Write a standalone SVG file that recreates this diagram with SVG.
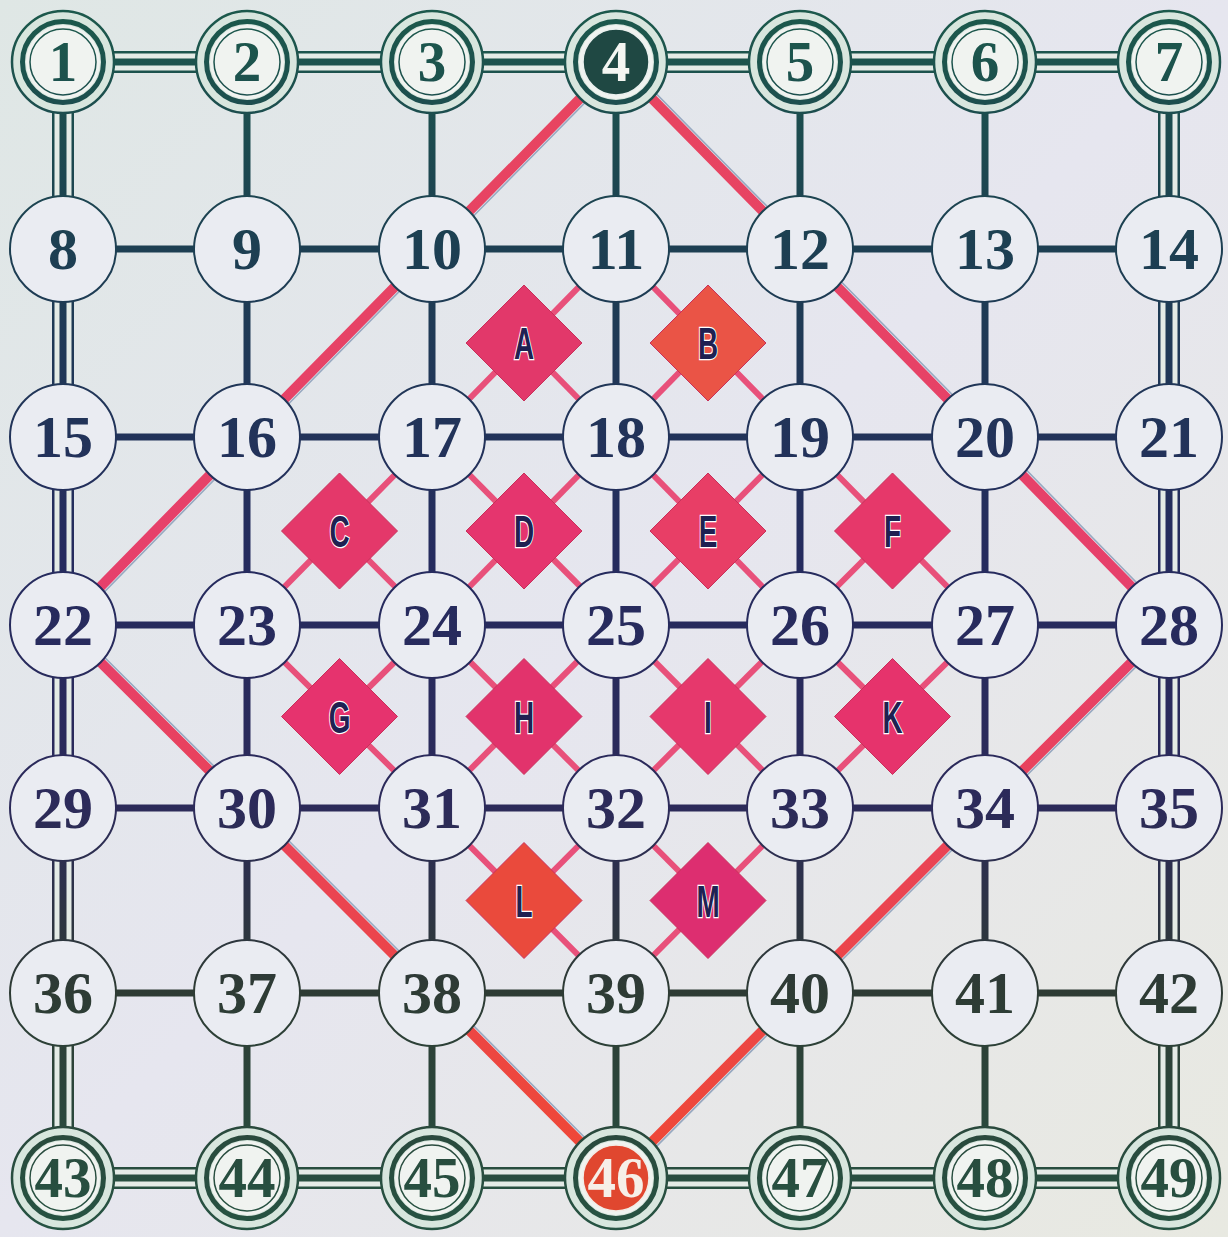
<svg xmlns="http://www.w3.org/2000/svg" width="1228" height="1237" viewBox="0 0 1228 1237">
<defs>
<linearGradient id="bgg" x1="0" y1="0" x2="1228" y2="1237" gradientUnits="userSpaceOnUse">
<stop offset="0" stop-color="#dfe7e5"/><stop offset="0.5" stop-color="#e6e6ef"/><stop offset="1" stop-color="#e8e9e1"/>
</linearGradient>
<linearGradient id="ink" x1="0" y1="0" x2="0" y2="1237" gradientUnits="userSpaceOnUse">
<stop offset="0" stop-color="#1c5a4b"/><stop offset="0.2" stop-color="#1d3f52"/><stop offset="0.45" stop-color="#252b5e"/><stop offset="0.65" stop-color="#2c2a5a"/><stop offset="0.8" stop-color="#2e3b34"/><stop offset="1" stop-color="#265443"/>
</linearGradient>
<linearGradient id="red" x1="0" y1="0" x2="0" y2="1237" gradientUnits="userSpaceOnUse">
<stop offset="0" stop-color="#e8455e"/><stop offset="0.5" stop-color="#e6406c"/><stop offset="1" stop-color="#f0492f"/>
</linearGradient>
<style>
.grid{stroke:url(#ink);stroke-width:7;fill:none}
.b1{stroke:url(#ink);stroke-width:22;fill:none}
.b2{stroke:#e4ebe6;stroke-width:17;fill:none}
.b3{stroke:url(#ink);stroke-width:7;fill:none}
.big{stroke:url(#red);stroke-width:10;fill:none;stroke-linejoin:round}
.bigsh{stroke:#97a8c0;stroke-width:1.6;fill:none}
.sm{stroke:#e8507a;stroke-width:6;fill:none}
.nd circle{fill:#eaecf2;stroke:url(#ink);stroke-width:2}
.num{font-family:"Liberation Serif","DejaVu Serif",serif;font-weight:bold;font-size:60px;text-anchor:middle;fill:url(#ink)}
.rnum{font-size:57px}
.ro{fill:#d8e6de;stroke:url(#ink);stroke-width:2.5}
.rg{fill:#f0f3f0}
.rm{fill:none;stroke:url(#ink);stroke-width:5}
.ri{fill:none;stroke:url(#ink);stroke-width:1.5}
.dia{stroke:#c8305a;stroke-width:1}
.let{font-family:"Liberation Sans","DejaVu Sans",sans-serif;font-weight:bold;font-size:45px;text-anchor:middle;fill:#1f2152;stroke:#ffffff;stroke-width:2.5;paint-order:stroke}
</style>
</defs>
<rect x="0" y="0" width="1228" height="1237" fill="url(#bgg)"/>

<g id="connectors">
<line class="grid" x1="63" y1="249" x2="1169" y2="249"/>
<line class="grid" x1="63" y1="437" x2="1169" y2="437"/>
<line class="grid" x1="63" y1="625" x2="1169" y2="625"/>
<line class="grid" x1="63" y1="808" x2="1169" y2="808"/>
<line class="grid" x1="63" y1="993" x2="1169" y2="993"/>
<line class="grid" x1="247" y1="62" x2="247" y2="1178"/>
<line class="grid" x1="432" y1="62" x2="432" y2="1178"/>
<line class="grid" x1="616" y1="62" x2="616" y2="1178"/>
<line class="grid" x1="800" y1="62" x2="800" y2="1178"/>
<line class="grid" x1="985" y1="62" x2="985" y2="1178"/>
<rect class="b1" x="63" y="62" width="1106" height="1116"/>
<rect class="b2" x="63" y="62" width="1106" height="1116"/>
<rect class="b3" x="63" y="62" width="1106" height="1116"/>
<polygon class="bigsh" transform="translate(9,0)" points="616,62 432,249 247,437 63,625 247,808 432,993 616,1178 800,993 985,808 1169,625 985,437 800,249"/>
<polygon class="big" points="616,62 432,249 247,437 63,625 247,808 432,993 616,1178 800,993 985,808 1169,625 985,437 800,249"/>
<polyline class="sm" points="616,249 432,437 247,625 432,808 616,993 800,808 985,625 800,437 616,249"/>
<line class="sm" x1="432" y1="437" x2="800" y2="808"/>
<line class="sm" x1="800" y1="437" x2="432" y2="808"/>
<line class="sm" x1="616" y1="437" x2="432" y2="625"/>
<line class="sm" x1="524" y1="343" x2="800" y2="625"/>
<line class="sm" x1="708" y1="343" x2="616" y2="437"/>
<line class="sm" x1="339.5" y1="531" x2="616" y2="808"/>
<line class="sm" x1="892.5" y1="531" x2="616" y2="808"/>
<line class="sm" x1="339.5" y1="716.5" x2="432" y2="625"/>
<line class="sm" x1="892.5" y1="716.5" x2="800" y2="625"/>
<line class="sm" x1="524" y1="900.5" x2="616" y2="808"/>
<line class="sm" x1="708" y1="900.5" x2="616" y2="808"/>
</g>

<g id="diamonds">
<g id="dA"><polygon class="dia" fill="#e2386a" points="524,285 582,343 524,401 466,343"/><text class="let" transform="translate(524,359) scale(0.62,1)">A</text></g>
<g id="dB"><polygon class="dia" fill="#ea5446" points="708,285 766,343 708,401 650,343"/><text class="let" transform="translate(708,359) scale(0.62,1)">B</text></g>
<g id="dC"><polygon class="dia" fill="#e4386a" points="339.5,473 397.5,531 339.5,589 281.5,531"/><text class="let" transform="translate(339.5,547) scale(0.62,1)">C</text></g>
<g id="dD"><polygon class="dia" fill="#e5356e" points="524,473 582,531 524,589 466,531"/><text class="let" transform="translate(524,547) scale(0.62,1)">D</text></g>
<g id="dE"><polygon class="dia" fill="#e83e66" points="708,473 766,531 708,589 650,531"/><text class="let" transform="translate(708,547) scale(0.62,1)">E</text></g>
<g id="dF"><polygon class="dia" fill="#e6386a" points="892.5,473 950.5,531 892.5,589 834.5,531"/><text class="let" transform="translate(892.5,547) scale(0.62,1)">F</text></g>
<g id="dG"><polygon class="dia" fill="#e6336e" points="339.5,658.5 397.5,716.5 339.5,774.5 281.5,716.5"/><text class="let" transform="translate(339.5,732.5) scale(0.62,1)">G</text></g>
<g id="dH"><polygon class="dia" fill="#e2336c" points="524,658.5 582,716.5 524,774.5 466,716.5"/><text class="let" transform="translate(524,732.5) scale(0.62,1)">H</text></g>
<g id="dI"><polygon class="dia" fill="#e6386c" points="708,658.5 766,716.5 708,774.5 650,716.5"/><text class="let" transform="translate(708,732.5) scale(0.62,1)">I</text></g>
<g id="dK"><polygon class="dia" fill="#e6336c" points="892.5,658.5 950.5,716.5 892.5,774.5 834.5,716.5"/><text class="let" transform="translate(892.5,732.5) scale(0.62,1)">K</text></g>
<g id="dL"><polygon class="dia" fill="#ea4a3c" points="524,842.5 582,900.5 524,958.5 466,900.5"/><text class="let" transform="translate(524,916.5) scale(0.62,1)">L</text></g>
<g id="dM"><polygon class="dia" fill="#dd2e70" points="708,842.5 766,900.5 708,958.5 650,900.5"/><text class="let" transform="translate(708,916.5) scale(0.62,1)">M</text></g>
</g>

<g id="nodes">
<g id="n1"><circle class="ro" cx="63" cy="62" r="51"/><circle class="rg" cx="63" cy="62" r="37"/><circle class="rm" cx="63" cy="62" r="40.5"/><circle class="ri" cx="63" cy="62" r="33"/><text class="num rnum" x="63" y="81">1</text></g>
<g id="n2"><circle class="ro" cx="247" cy="62" r="51"/><circle class="rg" cx="247" cy="62" r="37"/><circle class="rm" cx="247" cy="62" r="40.5"/><circle class="ri" cx="247" cy="62" r="33"/><text class="num rnum" x="247" y="81">2</text></g>
<g id="n3"><circle class="ro" cx="432" cy="62" r="51"/><circle class="rg" cx="432" cy="62" r="37"/><circle class="rm" cx="432" cy="62" r="40.5"/><circle class="ri" cx="432" cy="62" r="33"/><text class="num rnum" x="432" y="81">3</text></g>
<g id="n4"><circle class="ro" cx="616" cy="62" r="51"/><circle class="rg" cx="616" cy="62" r="37"/><circle class="rm" cx="616" cy="62" r="40.5"/><circle cx="616" cy="62" r="33" fill="#1f4843" stroke="#eaf0ee" stroke-width="1.5"/><text class="num rnum" x="616" y="81" style="fill:#f4f6f2">4</text></g>
<g id="n5"><circle class="ro" cx="800" cy="62" r="51"/><circle class="rg" cx="800" cy="62" r="37"/><circle class="rm" cx="800" cy="62" r="40.5"/><circle class="ri" cx="800" cy="62" r="33"/><text class="num rnum" x="800" y="81">5</text></g>
<g id="n6"><circle class="ro" cx="985" cy="62" r="51"/><circle class="rg" cx="985" cy="62" r="37"/><circle class="rm" cx="985" cy="62" r="40.5"/><circle class="ri" cx="985" cy="62" r="33"/><text class="num rnum" x="985" y="81">6</text></g>
<g id="n7"><circle class="ro" cx="1169" cy="62" r="51"/><circle class="rg" cx="1169" cy="62" r="37"/><circle class="rm" cx="1169" cy="62" r="40.5"/><circle class="ri" cx="1169" cy="62" r="33"/><text class="num rnum" x="1169" y="81">7</text></g>
<g id="n8" class="nd"><circle cx="63" cy="249" r="53"/><text class="num" x="63" y="269">8</text></g>
<g id="n9" class="nd"><circle cx="247" cy="249" r="53"/><text class="num" x="247" y="269">9</text></g>
<g id="n10" class="nd"><circle cx="432" cy="249" r="53"/><text class="num" x="432" y="269">10</text></g>
<g id="n11" class="nd"><circle cx="616" cy="249" r="53"/><text class="num" x="616" y="269">11</text></g>
<g id="n12" class="nd"><circle cx="800" cy="249" r="53"/><text class="num" x="800" y="269">12</text></g>
<g id="n13" class="nd"><circle cx="985" cy="249" r="53"/><text class="num" x="985" y="269">13</text></g>
<g id="n14" class="nd"><circle cx="1169" cy="249" r="53"/><text class="num" x="1169" y="269">14</text></g>
<g id="n15" class="nd"><circle cx="63" cy="437" r="53"/><text class="num" x="63" y="457">15</text></g>
<g id="n16" class="nd"><circle cx="247" cy="437" r="53"/><text class="num" x="247" y="457">16</text></g>
<g id="n17" class="nd"><circle cx="432" cy="437" r="53"/><text class="num" x="432" y="457">17</text></g>
<g id="n18" class="nd"><circle cx="616" cy="437" r="53"/><text class="num" x="616" y="457">18</text></g>
<g id="n19" class="nd"><circle cx="800" cy="437" r="53"/><text class="num" x="800" y="457">19</text></g>
<g id="n20" class="nd"><circle cx="985" cy="437" r="53"/><text class="num" x="985" y="457">20</text></g>
<g id="n21" class="nd"><circle cx="1169" cy="437" r="53"/><text class="num" x="1169" y="457">21</text></g>
<g id="n22" class="nd"><circle cx="63" cy="625" r="53"/><text class="num" x="63" y="645">22</text></g>
<g id="n23" class="nd"><circle cx="247" cy="625" r="53"/><text class="num" x="247" y="645">23</text></g>
<g id="n24" class="nd"><circle cx="432" cy="625" r="53"/><text class="num" x="432" y="645">24</text></g>
<g id="n25" class="nd"><circle cx="616" cy="625" r="53"/><text class="num" x="616" y="645">25</text></g>
<g id="n26" class="nd"><circle cx="800" cy="625" r="53"/><text class="num" x="800" y="645">26</text></g>
<g id="n27" class="nd"><circle cx="985" cy="625" r="53"/><text class="num" x="985" y="645">27</text></g>
<g id="n28" class="nd"><circle cx="1169" cy="625" r="53"/><text class="num" x="1169" y="645">28</text></g>
<g id="n29" class="nd"><circle cx="63" cy="808" r="53"/><text class="num" x="63" y="828">29</text></g>
<g id="n30" class="nd"><circle cx="247" cy="808" r="53"/><text class="num" x="247" y="828">30</text></g>
<g id="n31" class="nd"><circle cx="432" cy="808" r="53"/><text class="num" x="432" y="828">31</text></g>
<g id="n32" class="nd"><circle cx="616" cy="808" r="53"/><text class="num" x="616" y="828">32</text></g>
<g id="n33" class="nd"><circle cx="800" cy="808" r="53"/><text class="num" x="800" y="828">33</text></g>
<g id="n34" class="nd"><circle cx="985" cy="808" r="53"/><text class="num" x="985" y="828">34</text></g>
<g id="n35" class="nd"><circle cx="1169" cy="808" r="53"/><text class="num" x="1169" y="828">35</text></g>
<g id="n36" class="nd"><circle cx="63" cy="993" r="53"/><text class="num" x="63" y="1013">36</text></g>
<g id="n37" class="nd"><circle cx="247" cy="993" r="53"/><text class="num" x="247" y="1013">37</text></g>
<g id="n38" class="nd"><circle cx="432" cy="993" r="53"/><text class="num" x="432" y="1013">38</text></g>
<g id="n39" class="nd"><circle cx="616" cy="993" r="53"/><text class="num" x="616" y="1013">39</text></g>
<g id="n40" class="nd"><circle cx="800" cy="993" r="53"/><text class="num" x="800" y="1013">40</text></g>
<g id="n41" class="nd"><circle cx="985" cy="993" r="53"/><text class="num" x="985" y="1013">41</text></g>
<g id="n42" class="nd"><circle cx="1169" cy="993" r="53"/><text class="num" x="1169" y="1013">42</text></g>
<g id="n43"><circle class="ro" cx="63" cy="1178" r="51"/><circle class="rg" cx="63" cy="1178" r="37"/><circle class="rm" cx="63" cy="1178" r="40.5"/><circle class="ri" cx="63" cy="1178" r="33"/><text class="num rnum" x="63" y="1197">43</text></g>
<g id="n44"><circle class="ro" cx="247" cy="1178" r="51"/><circle class="rg" cx="247" cy="1178" r="37"/><circle class="rm" cx="247" cy="1178" r="40.5"/><circle class="ri" cx="247" cy="1178" r="33"/><text class="num rnum" x="247" y="1197">44</text></g>
<g id="n45"><circle class="ro" cx="432" cy="1178" r="51"/><circle class="rg" cx="432" cy="1178" r="37"/><circle class="rm" cx="432" cy="1178" r="40.5"/><circle class="ri" cx="432" cy="1178" r="33"/><text class="num rnum" x="432" y="1197">45</text></g>
<g id="n46"><circle class="ro" cx="616" cy="1178" r="51"/><circle class="rg" cx="616" cy="1178" r="37"/><circle class="rm" cx="616" cy="1178" r="40.5"/><circle cx="616" cy="1178" r="33" fill="#e0472f" stroke="#f2ece6" stroke-width="1.5"/><text class="num rnum" x="616" y="1197" style="fill:#f6efe8">46</text></g>
<g id="n47"><circle class="ro" cx="800" cy="1178" r="51"/><circle class="rg" cx="800" cy="1178" r="37"/><circle class="rm" cx="800" cy="1178" r="40.5"/><circle class="ri" cx="800" cy="1178" r="33"/><text class="num rnum" x="800" y="1197">47</text></g>
<g id="n48"><circle class="ro" cx="985" cy="1178" r="51"/><circle class="rg" cx="985" cy="1178" r="37"/><circle class="rm" cx="985" cy="1178" r="40.5"/><circle class="ri" cx="985" cy="1178" r="33"/><text class="num rnum" x="985" y="1197">48</text></g>
<g id="n49"><circle class="ro" cx="1169" cy="1178" r="51"/><circle class="rg" cx="1169" cy="1178" r="37"/><circle class="rm" cx="1169" cy="1178" r="40.5"/><circle class="ri" cx="1169" cy="1178" r="33"/><text class="num rnum" x="1169" y="1197">49</text></g>
</g>
</svg>
